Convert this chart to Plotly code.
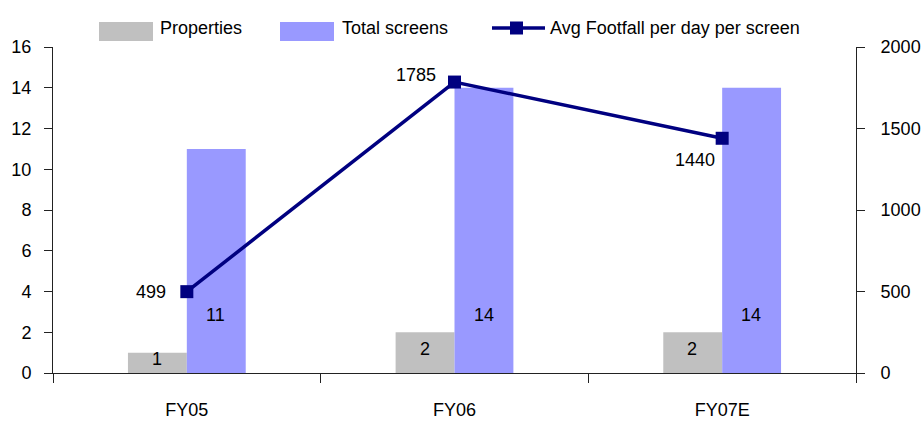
import plotly.graph_objects as go

categories = ["FY05", "FY06", "FY07E"]
properties = [1, 2, 2]
total_screens = [11, 14, 14]
avg_footfall = [499, 1785, 1440]

FONT = "Liberation Sans, Arial, sans-serif"
GREY = "#c0c0c0"
LAVENDER = "#9999ff"
NAVY = "#000080"
SIZE = 18

# plot area in pixels (used to place the hand-built legend)
L, R, T, B = 53, 856, 47, 373


def px(x):
    return (x - L) / (R - L)


def py(y):
    return (B - y) / (B - T)


fig = go.Figure()

fig.add_trace(go.Bar(
    x=categories, y=properties, name="Properties",
    marker=dict(color=GREY, line=dict(width=0)), showlegend=False,
))
fig.add_trace(go.Bar(
    x=categories, y=total_screens, name="Total screens",
    marker=dict(color=LAVENDER, line=dict(width=0)), showlegend=False,
))
fig.add_trace(go.Scatter(
    x=categories, y=avg_footfall, name="Avg Footfall per day per screen",
    yaxis="y2", mode="lines+markers", showlegend=False,
    line=dict(color=NAVY, width=3.5),
    marker=dict(symbol="square", size=13, color=NAVY),
))

annotations = []
# bar value labels
for c, v in zip(categories, properties):
    annotations.append(dict(x=c, y=v / 2, xref="x", yref="y", text=str(v),
                            showarrow=False, xshift=-30, yshift=4,
                            font=dict(family=FONT, size=SIZE, color="#000000")))
for c, v in zip(categories, total_screens):
    annotations.append(dict(x=c, y=0, xref="x", yref="y", text=str(v),
                            showarrow=False, xshift=29, yshift=58,
                            font=dict(family=FONT, size=SIZE, color="#000000")))
# footfall labels
shifts = [(-19, 0), (-17, 7), (-5, -22)]
for c, v, (dx, dy) in zip(categories, avg_footfall, shifts):
    annotations.append(dict(x=c, y=v, xref="x", yref="y2", text=str(v),
                            showarrow=False, xanchor="right", yanchor="middle",
                            xshift=dx, yshift=dy,
                            font=dict(family=FONT, size=SIZE, color="#000000")))

# legend
legend_items = [("Properties", 158), ("Total screens", 340),
                ("Avg Footfall per day per screen", 548)]
for label, x in legend_items:
    annotations.append(dict(x=px(x), y=py(28), xref="paper", yref="paper",
                            text=label, showarrow=False, xanchor="left",
                            yanchor="middle",
                            font=dict(family=FONT, size=SIZE, color="#000000")))

shapes = [
    dict(type="rect", xref="paper", yref="paper", x0=px(99), x1=px(153),
         y0=py(41), y1=py(22), fillcolor=GREY, line=dict(width=0)),
    dict(type="rect", xref="paper", yref="paper", x0=px(280), x1=px(334),
         y0=py(41), y1=py(22), fillcolor=LAVENDER, line=dict(width=0)),
    dict(type="line", xref="paper", yref="paper", x0=px(492), x1=px(545),
         y0=py(28), y1=py(28), line=dict(color=NAVY, width=3.5)),
    dict(type="rect", xref="paper", yref="paper", x0=px(510), x1=px(523),
         y0=py(34.5), y1=py(21.5), fillcolor=NAVY, line=dict(width=0)),
]

fig.update_layout(
    width=922, height=423,
    margin=dict(l=L, r=922 - R, t=T, b=423 - B),
    paper_bgcolor="white", plot_bgcolor="white",
    font=dict(family=FONT, size=SIZE, color="#000000"),
    barmode="group", bargap=0.56, bargroupgap=0,
    showlegend=False,
    annotations=annotations,
    shapes=shapes,
    xaxis=dict(showline=True, linecolor="#222222", linewidth=1,
               ticks="outside", tickson="boundaries", ticklen=9, tickcolor="#222222",
               showgrid=False, tickfont=dict(size=SIZE), ticklabelstandoff=20,
               automargin=False),
    yaxis=dict(range=[0, 16], dtick=2, showline=True, linecolor="#222222", linewidth=1,
               ticks="outside", ticklen=8, tickcolor="#222222", showgrid=False,
               zeroline=False, tickfont=dict(size=SIZE), ticklabelstandoff=9,
               automargin=False),
    yaxis2=dict(range=[0, 2000], dtick=500, overlaying="y", side="right",
                showline=True, linecolor="#222222", linewidth=1,
                ticks="outside", ticklen=8, tickcolor="#222222", showgrid=False,
                zeroline=False, tickfont=dict(size=SIZE), ticklabelstandoff=12,
                automargin=False),
)

fig.write_html("out.html")
